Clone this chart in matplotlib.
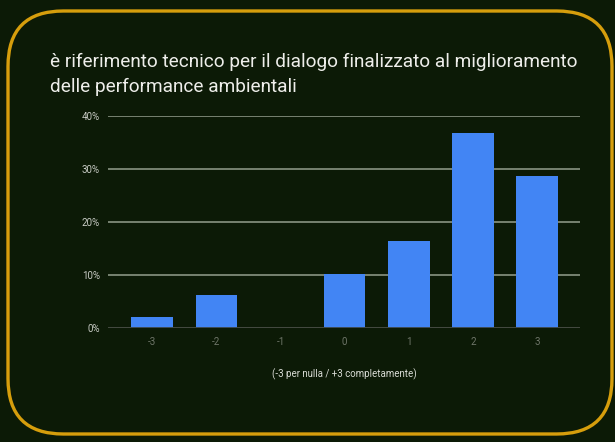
import matplotlib.pyplot as plt
from matplotlib.patches import FancyBboxPatch
from matplotlib.ticker import FuncFormatter

# dati
categorie = ['-3', '-2', '-1', '0', '1', '2', '3']
conteggi = [1, 3, 0, 5, 8, 18, 14]
totale = sum(conteggi)
percentuali = [c / totale * 100 for c in conteggi]
yticks = [0, 10, 20, 30, 40]

sfondo = '#0c1a06'
bordo = '#d69e0c'
blu = '#4285f4'

plt.rcParams['font.family'] = ['Roboto', 'DejaVu Sans']

fig = plt.figure(figsize=(6.15, 4.42), dpi=100, facecolor=sfondo)

# cornice arrotondata
W, H = 615, 442
box = FancyBboxPatch((8 / W, 8 / H), (604 / W), (423 / H),
                     boxstyle="round,pad=0,rounding_size=0.09",
                     transform=fig.transFigure, facecolor=sfondo,
                     edgecolor=bordo, linewidth=2.4, mutation_aspect=W / H,
                     zorder=-5)
fig.patches.append(box)

ax = fig.add_axes([108 / W, 1 - 327.5 / H, 472 / W, 211.5 / H])
ax.set_facecolor('none')
ax.set_zorder(5)

x = range(len(categorie))
ax.bar(x, percentuali, width=0.65, color=blu, zorder=3)

ax.set_xlim(-0.69, 6.67)
ax.set_ylim(0, 40)
ax.set_yticks(yticks)
ax.yaxis.set_major_formatter(FuncFormatter(lambda v, p: f'{int(v)}%'))
ax.set_xticks(list(x))
ax.set_xticklabels(categorie)

ax.grid(axis='y', color='#8a9482', linewidth=1.2, zorder=0)
ax.axhline(0, color='#3a3f36', linewidth=1.2, zorder=4)
for s in ax.spines.values():
    s.set_visible(False)
ax.tick_params(axis='both', length=0, labelsize=7, colors='#8f968a')
ax.tick_params(axis='y', pad=6, colors='#c8cbc4')
ax.tick_params(axis='x', pad=7, colors='#6f7669')

ax.set_xlabel('(-3 per nulla / +3 completamente)', fontsize=7,
              color='#d8dbd4', labelpad=15)

fig.text(50 / W, 1 - 62 / H,
         'è riferimento tecnico per il dialogo finalizzato al miglioramento',
         fontsize=13.7, color='#eeeeea', ha='left', va='center')
fig.text(50 / W, 1 - 87 / H, 'delle performance ambientali',
         fontsize=13.7, color='#eeeeea', ha='left', va='center')

fig.savefig('out.png', dpi=100, facecolor=sfondo)
